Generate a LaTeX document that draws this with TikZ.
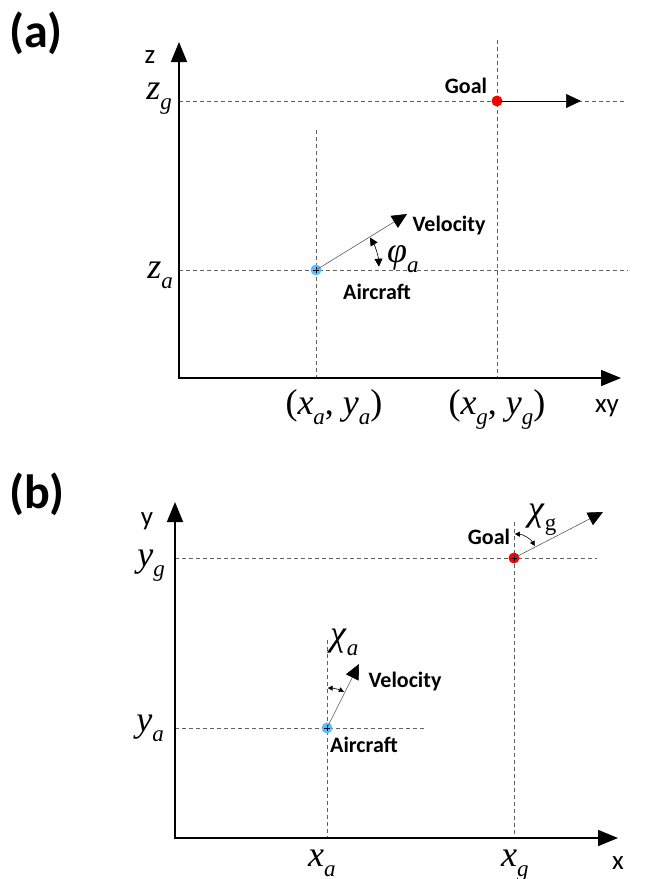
\documentclass[tikz,border=0pt]{standalone}
\usepackage{fontspec}
\setmainfont{Liberation Serif}
\newfontfamily\calibri{Carlito}
\usetikzlibrary{arrows.meta,positioning,calc}
\tikzset{
  axis/.style={line width=1.6pt, line join=miter, {Triangle[length=20pt,width=16pt]}-{Triangle[length=20pt,width=16pt]}},
  guide/.style={gray!75!black, line width=0.6pt, dash pattern=on 4pt off 3pt},
  vel/.style={gray!70!black, line width=0.6pt, -{Triangle[length=15pt,width=14pt,black]}},
  heading/.style={black, line width=0.6pt, -{Triangle[length=15pt,width=14pt]}},
  angle/.style={line width=0.6pt, {Triangle[length=8pt,width=8pt]}-{Triangle[length=8pt,width=8pt]}},
  smallangle/.style={line width=0.6pt, {Triangle[length=5pt,width=5pt]}-{Triangle[length=5pt,width=5pt]}},
  dot/.style={circle, inner sep=0pt, minimum size=11pt,
    path picture={\draw[line width=0.5pt] ([xshift=-3pt]path picture bounding box.center) -- ([xshift=3pt]path picture bounding box.center)
      ([yshift=-3pt]path picture bounding box.center) -- ([yshift=3pt]path picture bounding box.center);}},
  goaldot/.style={dot, fill=red},
  acdot/.style={dot, fill=blue!40!cyan!65!white},
  tag/.style={font=\calibri\bfseries\fontsize{48}{50}\selectfont},
  axlbl/.style={font=\calibri\fontsize{27}{29}\selectfont},
  word/.style={font=\calibri\bfseries\fontsize{22}{24}\selectfont},
  sym/.style={font=\fontsize{36}{38}\selectfont, inner sep=0pt},
}
\newcommand{\symsub}[2]{\textit{#1}\raisebox{-0.3em}{\fontsize{23}{25}\selectfont #2}}

\begin{document}
\begin{tikzpicture}[x=1pt, y=-1pt]
  \useasboundingbox (0,0) rectangle (647,879);

  % panel (a): altitude view
  \node[tag] (taga) at (36,33) {(a)};
  \coordinate (oa) at (179,378);
  \coordinate (ztip) at (179,42);
  \coordinate (xytip) at (621,378);
  \draw[guide] (179,101) -- (625,101);
  \draw[guide] (179,270) -- (628,270);
  \draw[guide] (497,40) -- (497,378);
  \draw[guide] (316,130) -- (316,378);
  \draw[axis] (ztip) -- (oa) -- (xytip);
  \node[axlbl] (zlbl) at (150,57) {z};
  \node[axlbl] (xylbl) at (607,408) {xy};
  \node[sym, anchor=base east] (zg) at (172,99) {\symsub{z}{\textit{g}}};
  \node[sym, anchor=base east] (za) at (173,278) {\symsub{z}{\textit{a}}};
  \node[sym, anchor=base] (xya) at (334,414) {(\symsub{x}{\textit{a}}, \symsub{y}{\textit{a}})};
  \node[sym, anchor=base] (xyg) at (497,414) {(\symsub{x}{\textit{g}}, \symsub{y}{\textit{g}})};

  \node[acdot] (aca) at (316,270) {};
  \node[goaldot] (ga) at (497,101) {};
  \coordinate (gahead) at (581,101);
  \coordinate (acahead) at (407,214);
  \draw[heading] (ga.center) -- (gahead);
  \draw[vel] (aca.center) -- (acahead);
  \draw[angle] ($(aca.center)+(-31:63)$) arc[start angle=-31, end angle=-3, radius=63];
  \node[word] (gawd) at (466,86) {Goal};
  \node[word] (velawd) at (449,226) {Velocity};
  \node[word] (acawd) at (377,292) {Aircraft};
  \node[sym, anchor=base west] (phia) at (387,262) {\symsub{\textit{φ}}{\textit{a}}};

  % panel (b): top view
  \node[tag] (tagb) at (37,494) {(b)};
  \coordinate (ob) at (175,838);
  \coordinate (ytip) at (175,502);
  \coordinate (xtip) at (618,838);
  \draw[guide] (175,558) -- (597,558);
  \draw[guide] (175,728) -- (425,728);
  \draw[guide] (514,522) -- (514,838);
  \draw[guide] (327,640) -- (327,838);
  \draw[axis] (ytip) -- (ob) -- (xtip);
  \node[axlbl] (ylbl) at (147,521) {y};
  \node[axlbl] (xlbl) at (618,863) {x};
  \node[sym, anchor=base east] (yg) at (165,566) {\symsub{y}{\textit{g}}};
  \node[sym, anchor=base east] (ya) at (164,731) {\symsub{y}{\textit{a}}};
  \node[sym, anchor=base west] (xa) at (308,866) {\symsub{x}{\textit{a}}};
  \node[sym, anchor=base west] (xg) at (501,866) {\symsub{x}{\textit{g}}};

  \node[acdot] (acb) at (327,728) {};
  \node[goaldot] (gb) at (514,558) {};
  \coordinate (acbhead) at (359,664);
  \coordinate (gbhead) at (603,512);
  \draw[vel] (acb.center) -- (acbhead);
  \draw[vel] (gb.center) -- (gbhead);
  \draw[smallangle] ($(acb.center)+(-89:40)$) arc[start angle=-89, end angle=-65, radius=40];
  \draw[smallangle] ($(gb.center)+(-88:24)$) arc[start angle=-88, end angle=-30, radius=24];
  \node[word] (gbwd) at (489,537) {Goal};
  \node[word] (velbwd) at (405,682) {Velocity};
  \node[word] (acbwd) at (364,745) {Aircraft};
  \node[sym, anchor=base west] (chia) at (330,645) {\symsub{\textit{χ}}{\textit{a}}};
  \node[sym, anchor=base west] (chig) at (528,520) {\symsub{\textit{χ}}{g}};
\end{tikzpicture}
\end{document}
